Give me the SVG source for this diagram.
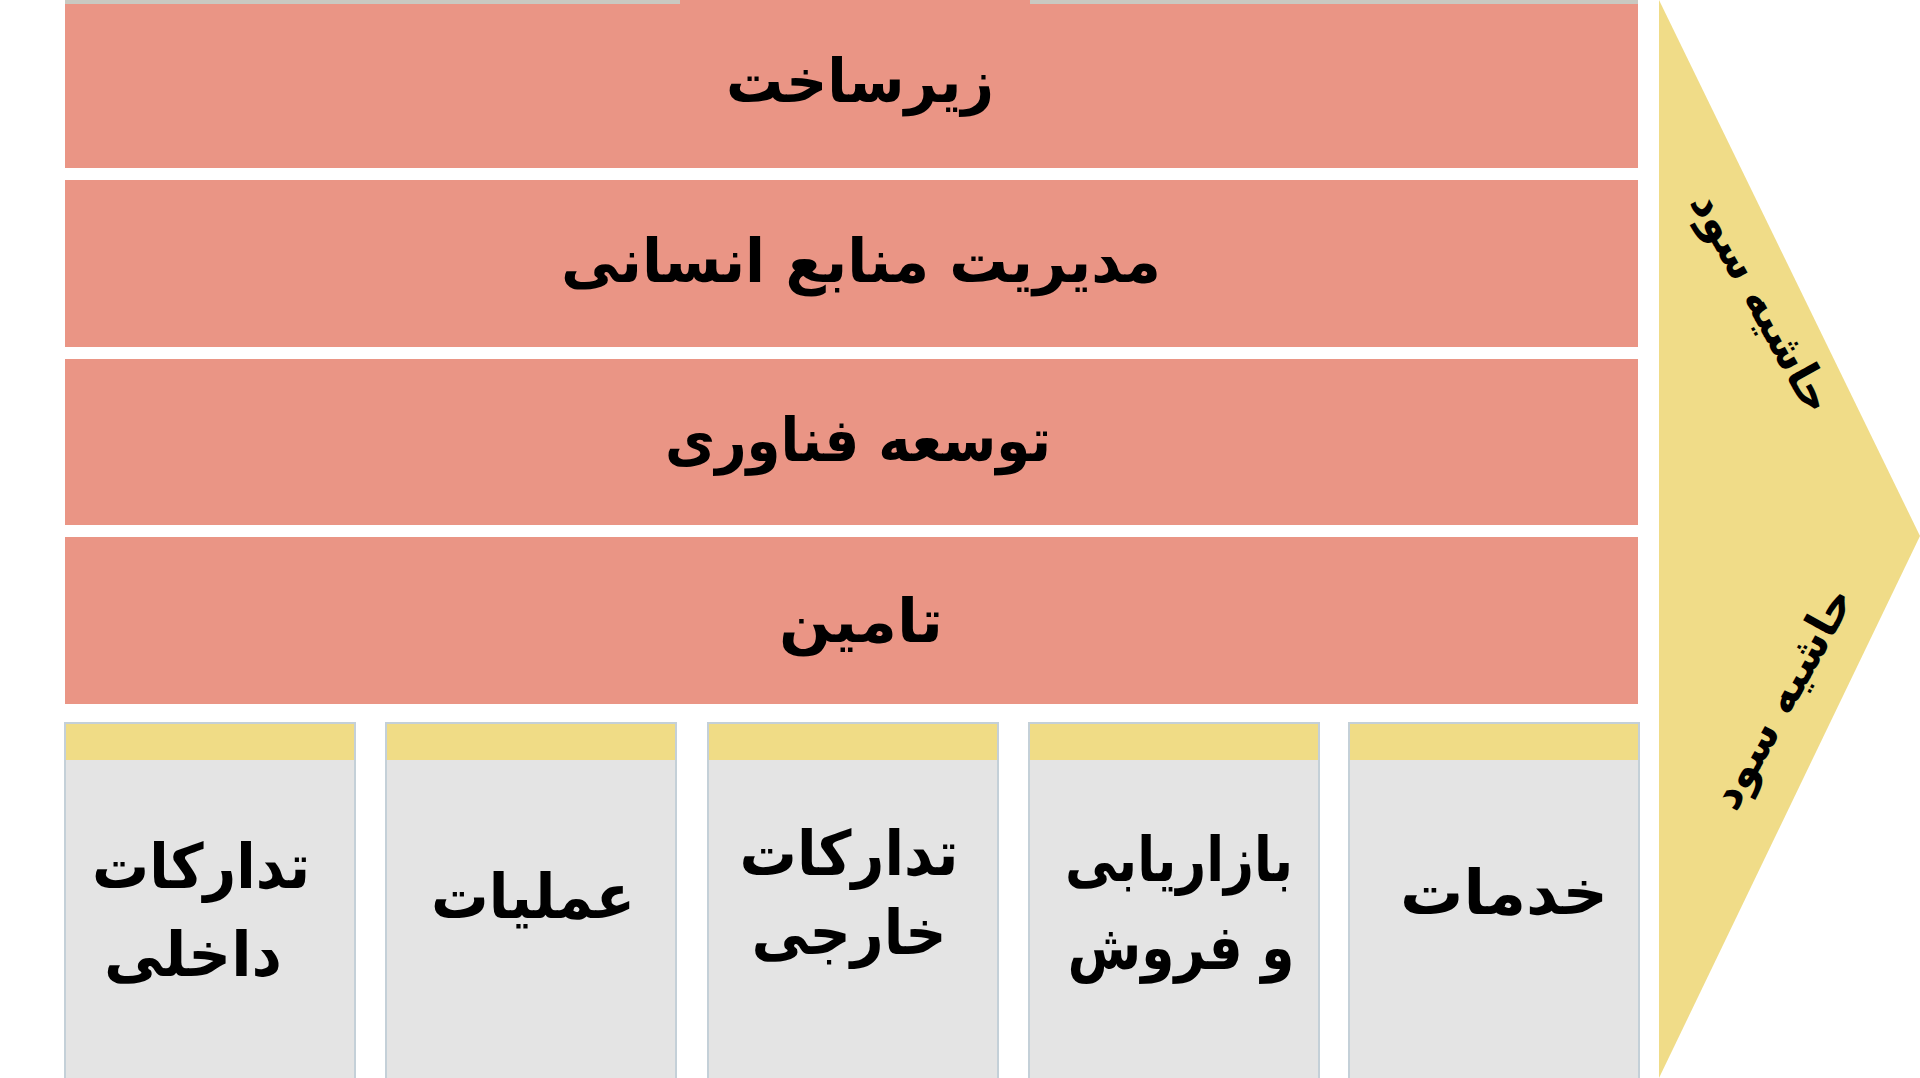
<svg xmlns="http://www.w3.org/2000/svg" width="1920" height="1078" viewBox="0 0 1920 1078">
<style>
.band{fill:#EA9585}
.box{fill:#E4E4E4;stroke:#C4D0D8;stroke-width:2}
.strip{fill:#F0DC86}
.tri{fill:#F0DC88}
.t{font-family:"DejaVu Sans",sans-serif;font-weight:bold;fill:#000;text-anchor:middle;direction:rtl}
.tb{font-size:60px}
.tx{font-size:62px}
.tm{font-size:45px}
</style>
<rect x="0" y="0" width="1920" height="1078" fill="#FFFFFF"/>
<g id="margin">
<polygon class="tri" points="1659,0 1920,536 1659,1078"/>
<text class="t tm" transform="translate(1762,302) rotate(61)" y="15" textLength="246" lengthAdjust="spacingAndGlyphs">حاشیه سود</text>
<text class="t tm" transform="translate(1782,698) rotate(-61)" y="15" textLength="246" lengthAdjust="spacingAndGlyphs">حاشیه سود</text>
</g>
<g id="infrastructure">
<rect class="band" x="65" y="0" width="1573" height="168"/>
<rect x="65" y="0" width="615" height="4" fill="#C9C9C1"/>
<rect x="1030" y="0" width="608" height="4" fill="#C9C9C1"/>
<text class="t tb" x="860" y="102" textLength="268" lengthAdjust="spacingAndGlyphs">زیرساخت</text>
</g>
<g id="hr">
<rect class="band" x="65" y="180" width="1573" height="167"/>
<text class="t tb" x="861" y="282" textLength="600" lengthAdjust="spacingAndGlyphs">مدیریت منابع انسانی</text>
</g>
<g id="tech">
<rect class="band" x="65" y="359" width="1573" height="166"/>
<text class="t tb" x="858" y="461" textLength="386" lengthAdjust="spacingAndGlyphs">توسعه فناوری</text>
</g>
<g id="procurement">
<rect class="band" x="65" y="537" width="1573" height="167"/>
<text class="t tb" x="861" y="642" textLength="164" lengthAdjust="spacingAndGlyphs">تامین</text>
</g>
<g id="inbound">
<rect class="box" x="65" y="723" width="290" height="360"/>
<rect class="strip" x="66" y="724" width="288" height="36"/>
<text class="t tx" x="201" y="888" textLength="218" lengthAdjust="spacingAndGlyphs">تدارکات</text>
<text class="t tx" x="193" y="976" textLength="178" lengthAdjust="spacingAndGlyphs">داخلی</text>
</g>
<g id="operations">
<rect class="box" x="386" y="723" width="290" height="360"/>
<rect class="strip" x="387" y="724" width="288" height="36"/>
<text class="t tx" x="533" y="918" textLength="204" lengthAdjust="spacingAndGlyphs">عملیات</text>
</g>
<g id="outbound">
<rect class="box" x="708" y="723" width="290" height="360"/>
<rect class="strip" x="709" y="724" width="288" height="36"/>
<text class="t tx" x="849" y="875" textLength="219" lengthAdjust="spacingAndGlyphs">تدارکات</text>
<text class="t tx" x="849" y="954" textLength="195" lengthAdjust="spacingAndGlyphs">خارجی</text>
</g>
<g id="marketing">
<rect class="box" x="1029" y="723" width="290" height="360"/>
<rect class="strip" x="1030" y="724" width="288" height="36"/>
<text class="t tx" x="1179" y="881" textLength="228" lengthAdjust="spacingAndGlyphs">بازاریابی</text>
<text class="t tx" x="1181" y="969" textLength="227" lengthAdjust="spacingAndGlyphs">و فروش</text>
</g>
<g id="service">
<rect class="box" x="1349" y="723" width="290" height="360"/>
<rect class="strip" x="1350" y="724" width="288" height="36"/>
<text class="t tx" x="1504" y="914" textLength="208" lengthAdjust="spacingAndGlyphs">خدمات</text>
</g>
<g id="connectors"></g>
</svg>
